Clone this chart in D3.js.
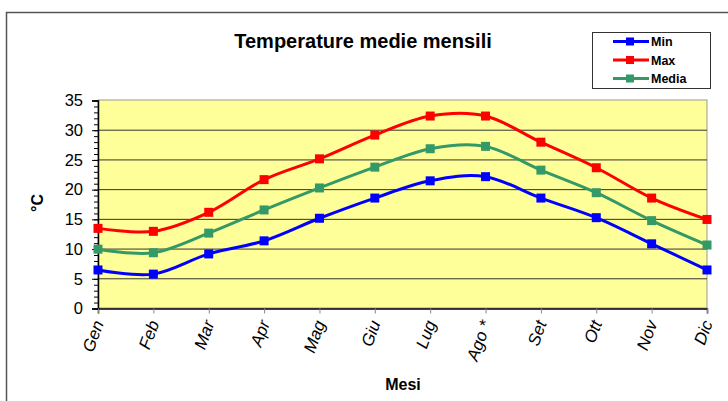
<!DOCTYPE html>
<html>
<head>
<meta charset="utf-8">
<script src="https://cdn.jsdelivr.net/npm/d3@7"></script>
<style>
  body { margin: 0; background: #fff; }
  text { font-family: "Liberation Sans", Arial, sans-serif; }
</style>
</head>
<body>
<div id="canvas"></div>
<script>
const w = 728, h = 401;

// months and series
const mesi = ["Gen", "Feb", "Mar", "Apr", "Mag", "Giu", "Lug", "Ago *", "Set", "Ott", "Nov", "Dic"];
const tMin = [6.4, 5.7, 9.1, 11.3, 15.1, 18.5, 21.4, 22.1, 18.5, 15.2, 10.8, 6.4];
const tMax = [13.4, 12.9, 16.1, 21.6, 25.1, 29.1, 32.3, 32.3, 27.9, 23.6, 18.5, 14.9];
const tMedia = [9.9, 9.3, 12.6, 16.5, 20.2, 23.7, 26.8, 27.2, 23.2, 19.4, 14.7, 10.6];
const yTicks = [0, 5, 10, 15, 20, 25, 30, 35];

const series = [
  { name: "Min", values: tMin, color: "#0000ff" },
  { name: "Max", values: tMax, color: "#ff0000" },
  { name: "Media", values: tMedia, color: "#339966" }
];

const margin = { left: 98, right: 21, top: 100, bottom: 93 };

let svg = d3.select("#canvas")
  .append("svg")
    .attr("width", w)
    .attr("height", h)
    .attr("viewBox", [0, 0, w, h]);

// outer chart frame (runs off the right and bottom edges)
svg.append("rect")
  .attr("x", 6.5).attr("y", 12.5)
  .attr("width", w).attr("height", h)
  .attr("fill", "none")
  .attr("stroke", "#555")
  .attr("stroke-width", 1.5);

let x = d3.scalePoint()
  .domain(mesi)
  .range([margin.left, w - margin.right]);

let y = d3.scaleLinear()
  .domain([0, 35])
  .range([h - margin.bottom, margin.top]);

// plot area
svg.append("rect")
  .attr("x", margin.left).attr("y", y(35))
  .attr("width", x.range()[1] - margin.left)
  .attr("height", y(0) - y(35))
  .attr("fill", "#ffff99")
  .attr("stroke", "#999")
  .attr("stroke-width", 1);

// gridlines
svg.append("g")
  .selectAll("line")
  .data(yTicks.filter(d => d > 0 && d < 35))
  .enter().append("line")
    .attr("x1", margin.left).attr("x2", x.range()[1])
    .attr("y1", d => y(d) + 0.5).attr("y2", d => y(d) + 0.5)
    .attr("stroke", "#333")
    .attr("stroke-width", 1);

// y axis: minor ticks every 1 degree, major every 5
let yMinor = d3.axisLeft(y).tickValues(d3.range(0, 36)).tickSize(4).tickFormat("");
svg.append("g")
  .attr("transform", "translate(" + margin.left + ",0.5)")
  .call(yMinor)
  .call(g => g.select(".domain").remove())
  .selectAll("line").attr("stroke", "#000");

let yAxis = d3.axisLeft(y).tickValues(yTicks).tickSize(6).tickPadding(9);
let gY = svg.append("g")
  .attr("transform", "translate(" + margin.left + ",0.5)")
  .call(yAxis);
gY.select(".domain").attr("stroke", "#000").attr("stroke-width", 1.5);
gY.selectAll("text").attr("font-size", 16.5).attr("fill", "#000")
  .attr("font-family", "Liberation Sans, Arial, sans-serif");

// x axis
let xAxis = d3.axisBottom(x).tickSize(5).tickFormat("");
let gX = svg.append("g")
  .attr("transform", "translate(0," + (y(0) + 0.5) + ")")
  .call(xAxis);
gX.select(".domain").attr("stroke", "#000").attr("stroke-width", 1.5);
gX.selectAll("line").attr("stroke", "#888");

svg.append("g")
  .selectAll("text")
  .data(mesi)
  .enter().append("text")
    .attr("transform", d => "translate(" + (x(d) + 6) + "," + (y(0) + 15) + ") rotate(-70)")
    .attr("text-anchor", "end")
    .attr("font-size", 17)
    .attr("font-style", "italic")
    .attr("fill", "#000")
    .text(d => d);

// lines and markers
let line = d3.line()
  .x((d, i) => x(mesi[i]))
  .y(d => y(d))
  .curve(d3.curveCatmullRom.alpha(0));

series.forEach(s => {
  svg.append("path")
    .datum(s.values)
    .attr("d", line)
    .attr("fill", "none")
    .attr("stroke", s.color)
    .attr("stroke-width", 3);
  svg.append("g")
    .selectAll("rect")
    .data(s.values)
    .enter().append("rect")
      .attr("x", (d, i) => x(mesi[i]) - 4.5)
      .attr("y", d => y(d) - 4.5)
      .attr("width", 9).attr("height", 9)
      .attr("fill", s.color);
});

// titles
svg.append("text")
  .attr("x", 363).attr("y", 48)
  .attr("text-anchor", "middle")
  .attr("font-size", 20).attr("font-weight", "bold")
  .text("Temperature medie mensili");

svg.append("text")
  .attr("x", 403).attr("y", 390)
  .attr("text-anchor", "middle")
  .attr("font-size", 16).attr("font-weight", "bold")
  .text("Mesi");

svg.append("text")
  .attr("transform", "translate(43,203) rotate(-90)")
  .attr("text-anchor", "middle")
  .attr("font-size", 16).attr("font-weight", "bold")
  .text("°C");

// legend
let leg = svg.append("g").attr("transform", "translate(592,32)");
leg.append("rect")
  .attr("x", 0.5).attr("y", 0.5)
  .attr("width", 118).attr("height", 56)
  .attr("fill", "#fff").attr("stroke", "#333");
series.forEach((s, i) => {
  let yy = 9.5 + i * 18.5;
  leg.append("line")
    .attr("x1", 21).attr("x2", 57)
    .attr("y1", yy).attr("y2", yy)
    .attr("stroke", s.color).attr("stroke-width", 3);
  leg.append("rect")
    .attr("x", 34).attr("y", yy - 4)
    .attr("width", 8).attr("height", 8)
    .attr("fill", s.color);
  leg.append("text")
    .attr("x", 59).attr("y", yy + 4.5)
    .attr("font-size", 12.5).attr("font-weight", "bold")
    .text(s.name);
});
</script>
</body>
</html>
